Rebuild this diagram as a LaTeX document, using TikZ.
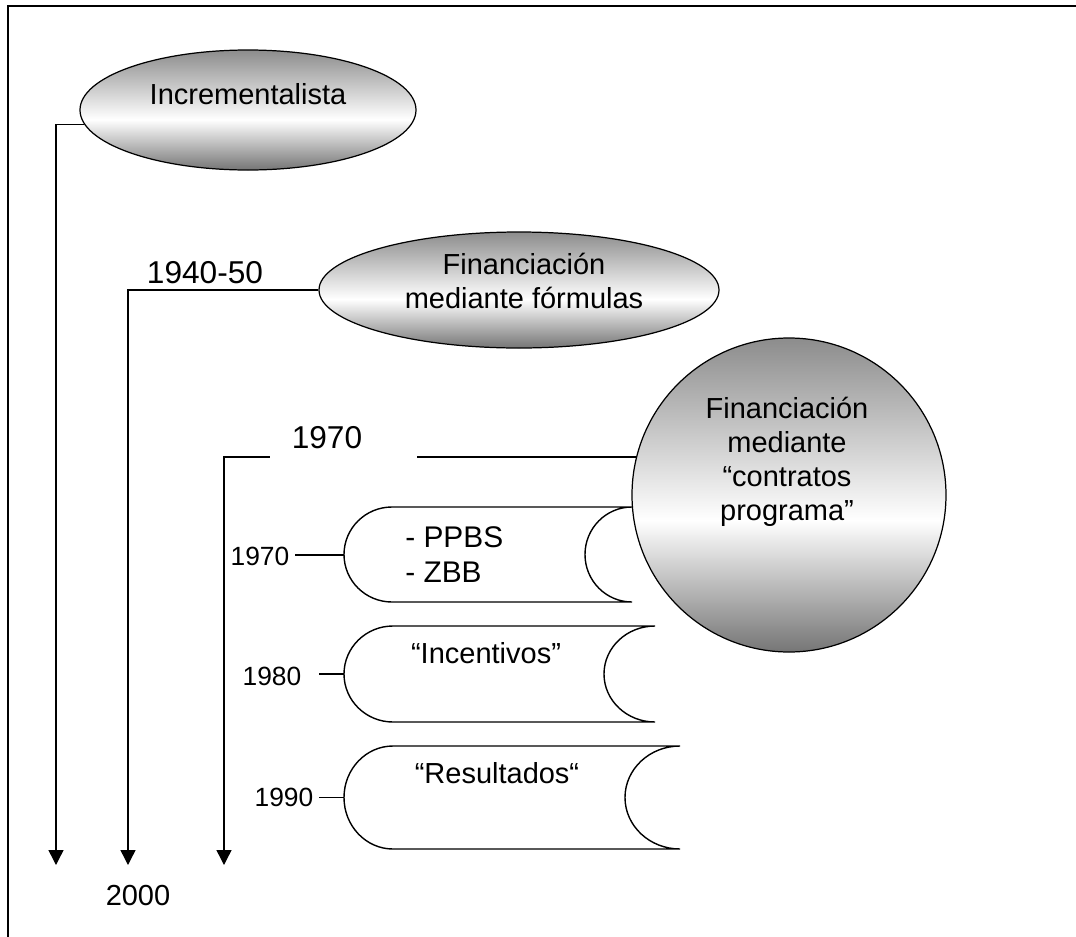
\documentclass[tikz,border=0pt]{standalone}
\usepackage{fontspec}
\setmainfont{Liberation Sans}
\usetikzlibrary{shapes.geometric,arrows.meta}
\newcommand{\pxu}{0.02cm}
\definecolor{topgray}{gray}{0.55}
\definecolor{botgray}{gray}{0.46}
% grey -> white -> grey vertical fill of the model bubbles
\pgfdeclareverticalshading{orbshade}{100bp}{color(0bp)=(botgray); color(25bp)=(botgray); color(46bp)=(white); color(75bp)=(topgray); color(100bp)=(topgray)}
\begin{document}
\begin{tikzpicture}[x=0.02cm, y=-0.02cm,
  frame/.style={line width=1.2pt},
  link/.style={line width=0.8pt},
  timeline/.style={link, -{Triangle[width=8.5pt,length=8.5pt]}},
  orb/.style={draw, line width=0.7pt, shade, shading=orbshade, inner sep=0pt},
  pill/.style={draw, fill=white, line width=0.8pt},
  big/.style={font=\fontsize{16.5}{19.3}\selectfont, inner sep=0pt},
  yearbig/.style={font=\fontsize{18}{21}\selectfont, inner sep=0pt},
  yearsmall/.style={font=\fontsize{15}{18}\selectfont, inner sep=0pt},
]
\useasboundingbox (0,0) rectangle (1076,937);

% frame
\coordinate (fbl) at (8,937);
\coordinate (ftl) at (8,6);
\coordinate (ftr) at (1076,6);
\draw[frame] (fbl) -- (ftl) -- (ftr);

% funding models (multi-line texts are placed by the baseline of their last line)
\node[orb, ellipse, minimum width=336*\pxu, minimum height=120*\pxu] (inc) at (248,110) {};
\node[big, anchor=base] (incT) at (248,104) {Incrementalista};

\node[orb, ellipse, minimum width=400*\pxu, minimum height=116*\pxu] (form) at (519,290) {};
\node[big, anchor=base, align=center] (formT) at (524,308) {Financiación\\mediante fórmulas};

% end points of the time lines
\coordinate (end1) at (56,865);
\coordinate (end2) at (128,865);
\coordinate (end3) at (224,865);

\draw[timeline] (inc.185) -| (end1);
\draw[timeline] (form.west) -| (end2);

\node[yearbig, anchor=base] (y4050) at (205,283) {1940-50};

% programme contracts: stages
\draw[pill] (392,507) -- (632,507)
  arc[start angle=-90, end angle=-270, x radius=47, y radius=47.5]
  -- (392,602)
  arc[start angle=90, end angle=270, x radius=48, y radius=47.5] -- cycle;
\draw[pill] (393,626) -- (655,626)
  arc[start angle=-90, end angle=-270, x radius=51, y radius=48]
  -- (393,722)
  arc[start angle=90, end angle=270, x radius=49, y radius=48] -- cycle;
\draw[pill] (393,746) -- (680,746)
  arc[start angle=-90, end angle=-270, x radius=55, y radius=51.5]
  -- (393,849)
  arc[start angle=90, end angle=270, x radius=49, y radius=51.5] -- cycle;
\coordinate (p1w) at (344,555);
\coordinate (p2w) at (344,674);
\coordinate (p3w) at (344,797.5);

\node[orb, circle, minimum size=314*\pxu] (cp) at (789,495) {};
\node[big, anchor=base, align=center, font=\fontsize{16.5}{19.3}\selectfont] (cpT) at (787,520) {Financiación\\mediante\\“contratos\\programa”};

\draw[timeline] (cp.166.4) -| (end3);
\node[fill=white, inner sep=0pt, minimum width=147*\pxu, minimum height=32*\pxu, anchor=south west] (mask70) at (270,460) {};
\node[yearbig, anchor=base] (y70) at (327,448) {1970};

\node[big, anchor=base west, align=left, font=\fontsize{17}{19.8}\selectfont] (ppbs) at (405,582) {- PPBS\\- ZBB};
\node[big, anchor=base] (incen) at (486,663) {“Incentivos”};
\node[big, anchor=base] (resul) at (497,783) {“Resultados“};

\node[yearsmall, anchor=base] (s70) at (260,565) {1970};
\node[yearsmall, anchor=base] (s80) at (272,685) {1980};
\node[yearsmall, anchor=base] (s90) at (284,806) {1990};
\coordinate (l1) at (295,555);
\coordinate (l2) at (319,674);
\coordinate (l3) at (319,797.5);
\draw[link] (l1) -- (p1w);
\draw[link] (l2) -- (p2w);
\draw[link] (l3) -- (p3w);

\node[big, anchor=base] (y2000) at (138,905) {2000};
\end{tikzpicture}
\end{document}
